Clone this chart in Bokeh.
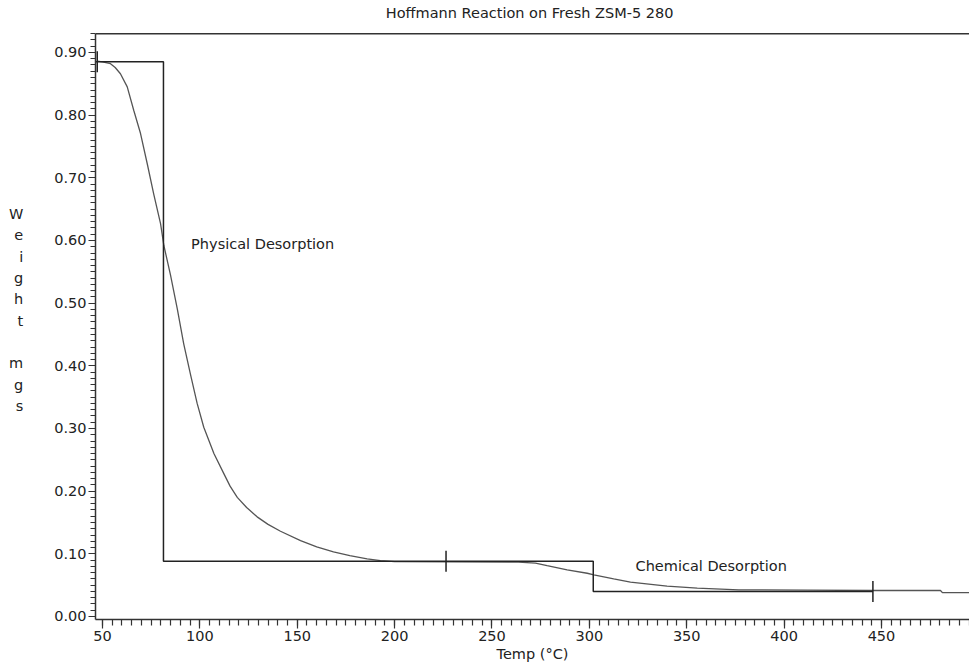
import math
from bokeh.plotting import figure
from bokeh.models import Label, Span, SingleIntervalTicker, PrintfTickFormatter, Range1d
from bokeh.embed import file_html
from bokeh.resources import INLINE

# ---- data ----
temp_c = [47.3, 50.0, 54.1, 56.5, 59.2, 62.7, 66.1, 69.5, 73.0, 76.3, 79.8, 81.5, 84.9,
          88.4, 91.7, 95.2, 98.6, 102.0, 107.2, 112.3, 115.5, 119.2, 124.0, 129.4, 135.0,
          141.4, 151.7, 160.0, 168.6, 177.0, 185.9, 192.7, 200.0, 230.0, 263.6, 272.3,
          278.3, 288.6, 298.9, 302.3, 312.5, 321.1, 339.9, 355.4, 376.7, 412.0, 445.4,
          480.3, 481.3, 495.2]
weight_mg = [0.886, 0.885, 0.882, 0.876, 0.866, 0.845, 0.807, 0.771, 0.722, 0.674, 0.627, 0.592, 0.545,
             0.491, 0.435, 0.386, 0.340, 0.302, 0.260, 0.228, 0.208, 0.190, 0.174, 0.159, 0.147,
             0.136, 0.121, 0.111, 0.103, 0.097, 0.092, 0.089, 0.0875, 0.087, 0.0866, 0.085,
             0.081, 0.0745, 0.069, 0.0665, 0.060, 0.0547, 0.0483, 0.0452, 0.0426, 0.042, 0.0415,
             0.0415, 0.038, 0.038]

step_temp = [46.6, 81.3, 302.0, 445.6]
step_weight = [0.885, 0.088, 0.040, 0.040]

marker_temp = [47.3, 226.4, 445.6]
marker_weight = [0.885, 0.088, 0.040]

title_text = "Hoffmann Reaction on Fresh ZSM-5 280"
x_label = "Temp (\u00b0C)"
y_label = "W\ne\ni\ng\nh\nt\n \nm\ng\ns"
annotations = [("Physical Desorption", 95.5, 0.595), ("Chemical Desorption", 323.7, 0.0798)]

FONT = "DejaVu Sans"
FS = "14.5px"
INK = "#222222"

Y_TOP_BOX = 0.930   # value at the top border of the chart box

p = figure(width=969, height=667, output_backend="svg", toolbar_location=None,
           x_range=Range1d(46.4, 495.2), y_range=Range1d(-0.0048, 0.9829),
           min_border_left=95, min_border_right=0, min_border_top=0, min_border_bottom=48)
p.grid.visible = False
p.outline_line_color = None
p.background_fill_color = "white"
p.border_fill_color = "white"

# axes
xa = p.xaxis[0]
xa.ticker = SingleIntervalTicker(interval=50, num_minor_ticks=10)
xa.axis_label = x_label
xa.axis_label_text_font = FONT
xa.axis_label_text_font_size = FS
xa.axis_label_text_font_style = "normal"
xa.axis_label_text_color = INK
xa.axis_label_standoff = 2
xa.major_label_standoff = 2
xa.major_tick_out = 9
xa.major_tick_in = 0
xa.minor_tick_out = 6
xa.minor_tick_in = 0

ya = p.yaxis[0]
ya.ticker = SingleIntervalTicker(interval=0.1, num_minor_ticks=10)
ya.formatter = PrintfTickFormatter(format="%.2f")
ya.bounds = (-0.0048, Y_TOP_BOX)
ya.major_label_standoff = 2
ya.major_tick_out = 7
ya.major_tick_in = 0
ya.minor_tick_out = 5
ya.minor_tick_in = 0
ya.axis_label = y_label
ya.axis_label_text_font = FONT
ya.axis_label_text_font_size = FS
ya.axis_label_text_font_style = "normal"
ya.axis_label_text_color = INK
ya.axis_label_text_line_height = 1.333
ya.axis_label_standoff = 28
if "axis_label_orientation" in ya.properties():
    ya.axis_label_orientation = "horizontal"

for ax in (xa, ya):
    ax.major_label_text_font = FONT
    ax.major_label_text_font_size = FS
    ax.major_label_text_color = INK
    ax.axis_line_color = "#333333"
    ax.axis_line_width = 1.5
    ax.major_tick_line_color = "#333333"
    ax.major_tick_line_width = 1.2
    ax.minor_tick_line_color = "#333333"
    ax.minor_tick_line_width = 1.2

# top border of the chart box
p.add_layout(Span(location=Y_TOP_BOX, dimension="width", line_color="#333333", line_width=1.5))

# title
p.add_layout(Label(x=269.3, y=0.9627, text=title_text, text_font=FONT, text_font_size=FS,
                   text_color=INK, text_align="center", text_baseline="alphabetic"))

# curve and step
p.line(temp_c, weight_mg, line_color="#555555", line_width=1.3)
p.step(step_temp, step_weight, mode="after", line_color="#222222", line_width=1.5)
p.scatter(marker_temp, marker_weight, marker="dash", angle=math.pi / 2, size=21,
          line_color="#222222", line_width=1.5)

for txt, x, y in annotations:
    p.add_layout(Label(x=x, y=y, text=txt, text_font=FONT, text_font_size=FS,
                       text_color=INK, text_align="left", text_baseline="middle"))

open("out.html", "w").write(file_html(p, INLINE))
